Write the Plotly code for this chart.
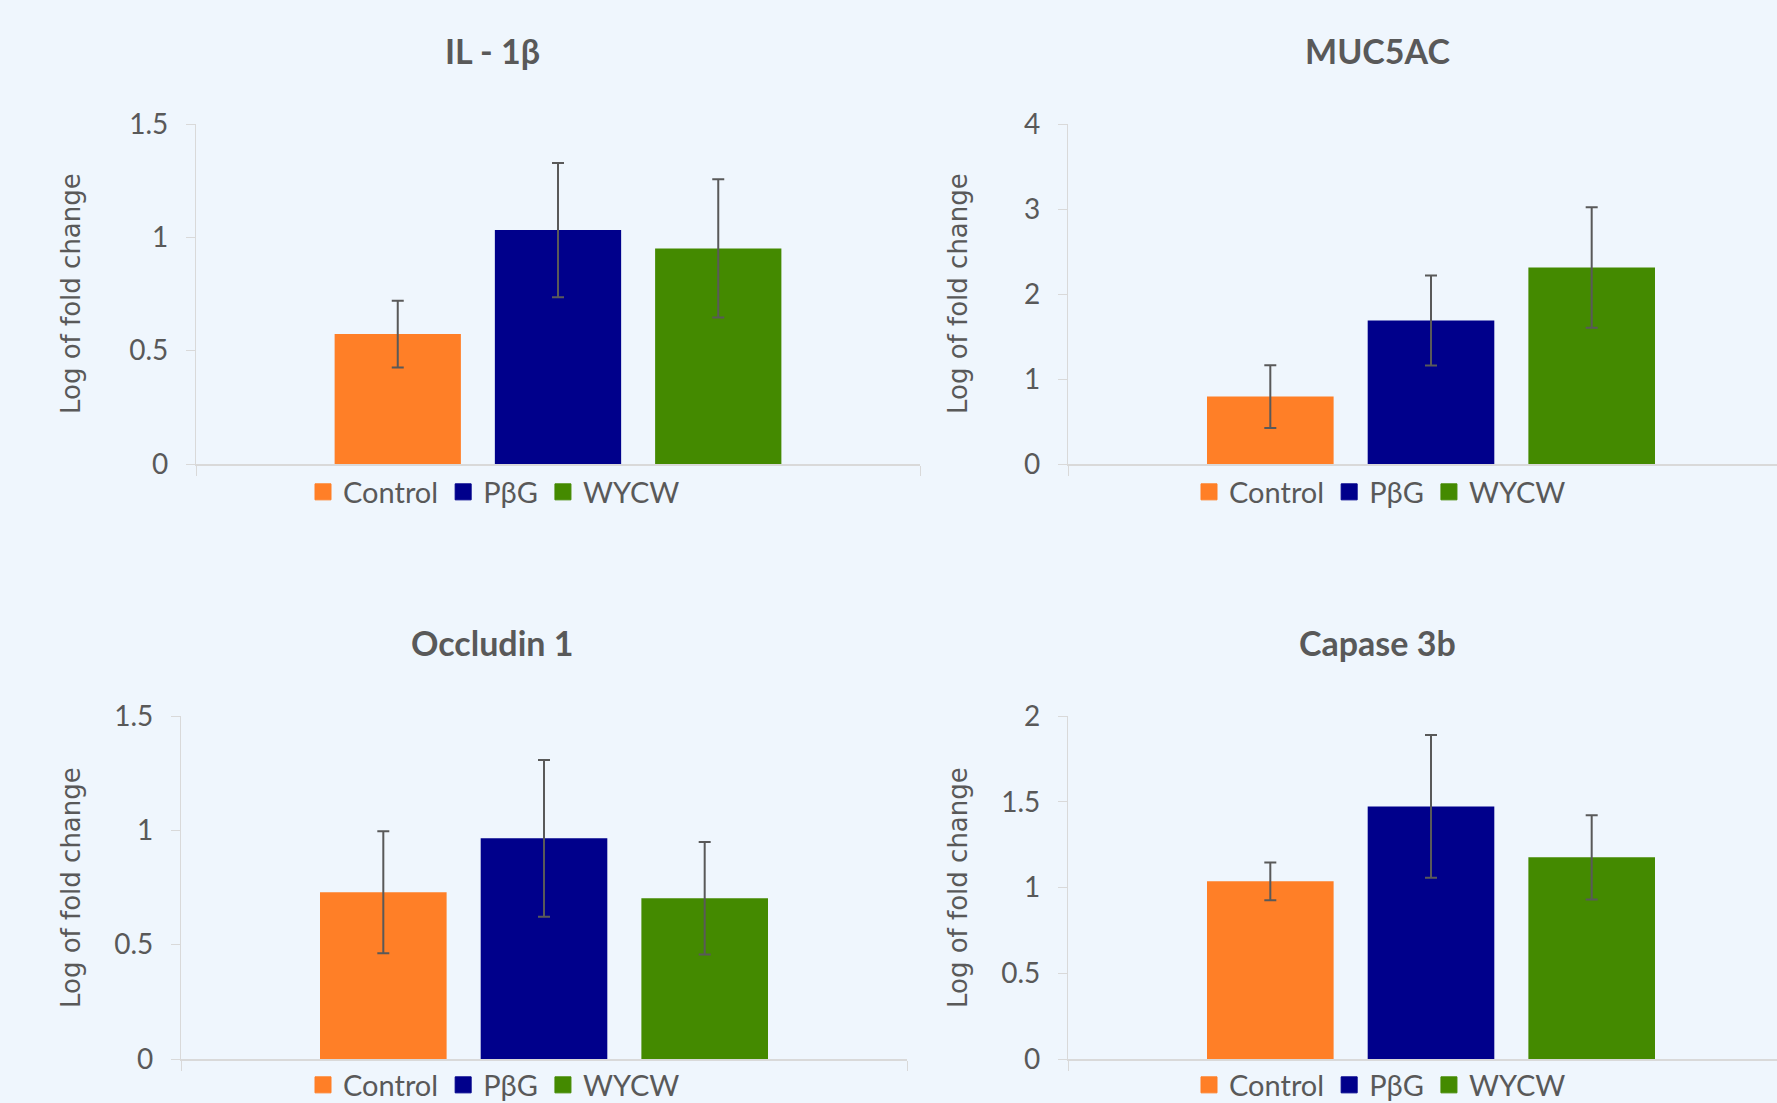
import plotly.graph_objects as go

W, H = 1777, 1103

# ---------------- data ----------------
genes = ["IL - 1β", "MUC5AC", "Occludin 1", "Capase 3b"]
groups = ["Control", "PβG", "WYCW"]

control_mean = [0.573, 0.793, 0.729, 1.036]
pbg_mean = [1.032, 1.688, 0.965, 1.473]
wycw_mean = [0.951, 2.312, 0.703, 1.176]

control_err = [0.147, 0.370, 0.267, 0.110]
pbg_err = [0.296, 0.530, 0.343, 0.416]
wycw_err = [0.305, 0.710, 0.246, 0.246]

y_max = [1.5, 4, 1.5, 2]
y_step = [0.5, 1, 0.5, 0.5]
y_title = "Log of fold change"

means = [control_mean, pbg_mean, wycw_mean]
errs = [control_err, pbg_err, wycw_err]
colors = ["#FF7F27", "#00008B", "#448A00"]

# ---------------- layout geometry (px) ----------------
# (left, right, top, bottom) of each plot area; right may exceed the page (clipped)
boxes = [(196, 920, 124, 464), (1068, 1794, 124, 464),
         (181, 907, 716, 1059), (1068, 1794, 716, 1059)]
title_pos = [(492, 51), (1377, 51), (492, 642), (1377, 642)]
ytitle_pos = [(71, 294), (958, 294), (71, 888), (958, 888)]
legend_pos = [(494, 492), (1380, 492), (494, 1085), (1380, 1085)]

TXT = "#595959"
AX = "#D9D9D9"
NUM_FONT = "Lato, 'Open Sans', sans-serif"

fig = go.Figure()
layout = dict(
    width=W, height=H, margin=dict(l=0, r=0, t=0, b=0, autoexpand=False),
    paper_bgcolor="#EFF6FD", plot_bgcolor="rgba(0,0,0,0)",
    barmode="group", bargap=0.336, bargroupgap=0.212,
    annotations=[],
)

for i, gene in enumerate(genes):
    sfx = "" if i == 0 else str(i + 1)
    xa, ya = "x" + sfx, "y" + sfx
    leg = "legend" + sfx
    l, r, t, b = boxes[i]
    rr = min(r, W)
    layout["xaxis" + sfx] = dict(
        domain=[l / W, rr / W], anchor=ya, type="category",
        range=[-0.5, -0.5 + (rr - l) / (r - l)],
        showticklabels=False, showgrid=False, zeroline=False,
        showline=True, linecolor=AX, linewidth=2,
        ticks="outside", tickson="boundaries", ticklen=10, tickwidth=1.3, tickcolor=AX,
        fixedrange=True,
    )
    layout["yaxis" + sfx] = dict(
        domain=[1 - b / H, 1 - t / H], anchor=xa,
        range=[0, y_max[i]], dtick=y_step[i], tick0=0,
        showgrid=False, zeroline=False,
        showline=True, linecolor=AX, linewidth=1.3,
        ticks="outside", ticklen=9, tickwidth=1.3, tickcolor=AX,
        ticklabelstandoff=12,
        tickfont=dict(family=NUM_FONT, size=28, color=TXT),
        fixedrange=True,
    )
    for j, grp in enumerate(groups):
        fig.add_trace(go.Bar(
            x=[gene], y=[means[j][i]], name=grp,
            marker=dict(color=colors[j], line=dict(width=0)),
            error_y=dict(type="data", array=[errs[j][i]], visible=True,
                         color=TXT, thickness=2, width=6),
            xaxis=xa, yaxis=ya, showlegend=False, hoverinfo="y",
        ))
    for j, grp in enumerate(groups):
        fig.add_trace(go.Scatter(
            x=[None], y=[None], mode="markers", name=grp,
            marker=dict(symbol="square", size=20, color=colors[j],
                        line=dict(width=1, color=colors[j])),
            xaxis=xa, yaxis=ya, legend=leg, showlegend=True,
        ))
    lx, ly = legend_pos[i]
    layout[leg] = dict(
        orientation="h", x=lx / W, xanchor="center", y=1 - ly / H, yanchor="middle",
        font=dict(family=NUM_FONT, size=29, color=TXT),
        bgcolor="rgba(0,0,0,0)", borderwidth=0, itemclick=False, itemdoubleclick=False,
    )
    tx, ty = title_pos[i]
    layout["annotations"].append(dict(
        text=gene, x=tx / W, y=1 - ty / H, xref="paper", yref="paper",
        xanchor="center", yanchor="middle", showarrow=False,
        font=dict(family=NUM_FONT, size=34, color=TXT, weight=700),
    ))
    ax_, ay_ = ytitle_pos[i]
    layout["annotations"].append(dict(
        text=y_title, x=ax_ / W, y=1 - ay_ / H, xref="paper", yref="paper",
        xanchor="center", yanchor="middle", showarrow=False, textangle=-90,
        font=dict(family="'DejaVu Sans', Verdana, sans-serif", size=26, color=TXT),
    ))

fig.update_layout(**layout)
fig.write_html("out.html", include_plotlyjs=True, config={"displayModeBar": False},
               post_script="document.body.style.margin='0';document.body.style.overflow='hidden';")
